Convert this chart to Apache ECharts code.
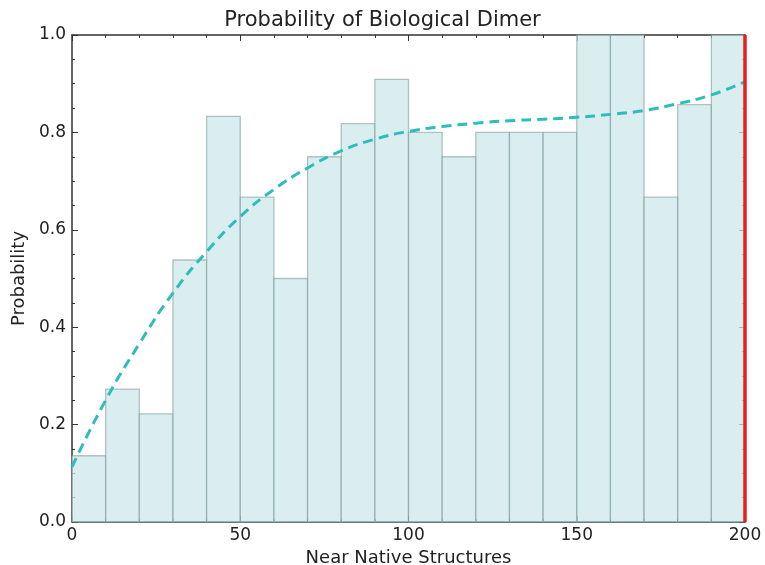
<!DOCTYPE html>
<html>
<head>
<meta charset="utf-8">
<script src="https://cdn.jsdelivr.net/npm/echarts@6/dist/echarts.min.js"></script>
<style>
  html, body { margin: 0; padding: 0; background: #fff; }
  #chart { width: 765px; height: 565px; }
</style>
</head>
<body>
<div id="chart"></div>
<script>
// histogram bins (left edge), width 10
const binStarts = [0, 10, 20, 30, 40, 50, 60, 70, 80, 90, 100, 110, 120, 130, 140, 150, 160, 170, 180, 190];
const binProb = [0.136, 0.273, 0.222, 0.538, 0.833, 0.667, 0.5, 0.75, 0.818, 0.909, 0.8, 0.75, 0.8, 0.8, 0.8, 1.0, 1.0, 0.667, 0.857, 1.0];
// fitted trend (dashed)
const fitX = [0, 10, 20, 30, 40, 50, 60, 70, 80, 90, 100, 110, 120, 130, 140, 150, 160, 170, 180, 190, 200];
const fitY = [0.113, 0.25, 0.366, 0.47, 0.555, 0.627, 0.683, 0.727, 0.762, 0.786, 0.802, 0.812, 0.819, 0.824, 0.827, 0.831, 0.837, 0.845, 0.859, 0.877, 0.904];
const binWidth = 10;
const cutoff = 200;

const font = 'DejaVu Sans';
const chart = echarts.init(document.getElementById('chart'));

const frameAxis = {
  axisLine: { show: true, onZero: false, lineStyle: { color: '#333', width: 1.5 } },
  axisTick: { show: true, inside: true, length: 6, lineStyle: { color: '#333' } },
  minorTick: { show: true, length: 3, lineStyle: { color: '#333' } },
  splitLine: { show: false },
  minorSplitLine: { show: false },
};

const option = {
  animation: false,
  title: {
    text: 'Probability of Biological Dimer',
    left: 'center',
    top: 5,
    textStyle: { fontFamily: font, fontSize: 21, fontWeight: 'normal', color: '#222' },
  },
  grid: { left: 72, right: 20, top: 35, bottom: 43, outerBoundsMode: 'none' },
  xAxis: [
    Object.assign({}, frameAxis, {
      type: 'value',
      min: 0,
      max: 200,
      interval: 50,
      minorTick: Object.assign({}, frameAxis.minorTick, { splitNumber: 5 }),
      name: 'Near Native Structures',
      nameLocation: 'middle',
      nameGap: 24,
      nameTextStyle: { fontFamily: font, fontSize: 18, color: '#222' },
      axisLabel: { fontFamily: font, fontSize: 17, color: '#222', margin: 5 },
    }),
    Object.assign({}, frameAxis, {
      type: 'value',
      position: 'top',
      min: 0,
      max: 200,
      interval: 50,
      minorTick: Object.assign({}, frameAxis.minorTick, { splitNumber: 5 }),
      axisLabel: { show: false },
    }),
  ],
  yAxis: [
    Object.assign({}, frameAxis, {
      type: 'value',
      min: 0,
      max: 1,
      interval: 0.2,
      minorTick: Object.assign({}, frameAxis.minorTick, { splitNumber: 4 }),
      name: 'Probability',
      nameLocation: 'middle',
      nameGap: 43,
      nameTextStyle: { fontFamily: font, fontSize: 18, color: '#222' },
      axisLabel: {
        fontFamily: font, fontSize: 17, color: '#222', margin: 6,
        formatter: (v) => v.toFixed(1),
      },
    }),
    Object.assign({}, frameAxis, {
      type: 'value',
      position: 'right',
      min: 0,
      max: 1,
      interval: 0.2,
      minorTick: Object.assign({}, frameAxis.minorTick, { splitNumber: 4 }),
      axisLabel: { show: false },
    }),
  ],
  series: [
    {
      type: 'custom',
      xAxisIndex: 0,
      yAxisIndex: 0,
      data: binStarts.map((x, i) => [x, x + binWidth, binProb[i]]),
      encode: { x: [0, 1], y: 2 },
      renderItem: (params, api) => {
        const p0 = api.coord([api.value(0), 0]);
        const p1 = api.coord([api.value(1), api.value(2)]);
        return {
          type: 'rect',
          shape: { x: p0[0], y: p1[1], width: p1[0] - p0[0], height: p0[1] - p1[1] },
          style: { fill: 'rgba(206,232,235,0.75)', stroke: 'rgba(120,150,150,0.55)', lineWidth: 1.3 },
        };
      },
      z: 1,
    },
    {
      type: 'line',
      xAxisIndex: 0,
      yAxisIndex: 0,
      data: fitX.map((x, i) => [x, fitY[i]]),
      smooth: 0.5,
      showSymbol: false,
      lineStyle: { color: '#2dbdbd', width: 3, type: [10, 6] },
      z: 3,
      markLine: {
        silent: true,
        symbol: 'none',
        label: { show: false },
        lineStyle: { color: '#e8201c', width: 3.5, type: 'solid' },
        data: [{ xAxis: cutoff }],
      },
    },
  ],
};

chart.setOption(option);
</script>
</body>
</html>
